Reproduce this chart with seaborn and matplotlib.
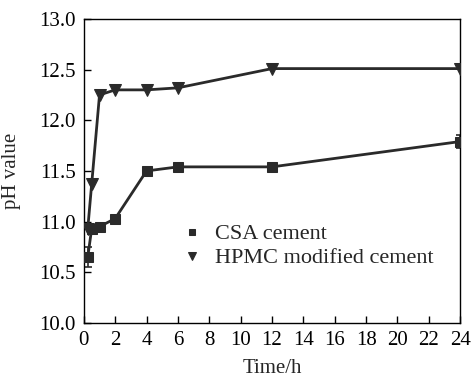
import matplotlib
matplotlib.use("Agg")
import matplotlib.pyplot as plt
import seaborn as sns
import pandas as pd

time_csa = [0.25, 0.5, 1, 2, 4, 6, 12, 24]
ph_csa = [10.65, 10.93, 10.95, 11.03, 11.50, 11.54, 11.54, 11.79]
err_csa = [0.10, 0.02, 0.02, 0.02, 0.04, 0.02, 0.02, 0.06]

time_hpmc = [0.25, 0.5, 1, 2, 4, 6, 12, 24]
ph_hpmc = [10.93, 11.37, 12.25, 12.30, 12.30, 12.32, 12.51, 12.51]

labels = ["CSA cement", "HPMC modified cement"]
x_ticks = [0, 2, 4, 6, 8, 10, 12, 14, 16, 18, 20, 22, 24]
y_ticks = [10.0, 10.5, 11.0, 11.5, 12.0, 12.5, 13.0]

sns.set_theme(style="ticks")
plt.rcParams['font.family'] = ['Liberation Serif', 'DejaVu Serif']
plt.rcParams['mathtext.fontset'] = 'stix'

fig = plt.figure(figsize=(4.71, 3.79), dpi=100)
ax = fig.add_axes([0.178, 0.148, 0.799, 0.802])

df_csa = pd.DataFrame({"t": time_csa, "pH": ph_csa})
df_hpmc = pd.DataFrame({"t": time_hpmc, "pH": ph_hpmc})

col = "#2a2a2a"
ax.errorbar(time_csa, ph_csa, yerr=err_csa, fmt="none", ecolor=col, elinewidth=1.2, capsize=3, capthick=1.2, zorder=2)
sns.lineplot(data=df_csa, x="t", y="pH", ax=ax, color=col, linewidth=2.0, marker="s",
             markersize=6.5, markeredgecolor=col, markerfacecolor=col, label=labels[0], zorder=3)
sns.lineplot(data=df_hpmc, x="t", y="pH", ax=ax, color=col, linewidth=2.0, marker="v",
             markersize=8.5, markeredgecolor=col, markerfacecolor=col, label=labels[1], zorder=3)

ax.set_xlim(0, 24)
ax.set_ylim(10.0, 13.0)
ax.set_xticks(x_ticks)
ax.set_yticks(y_ticks)
ax.set_yticklabels([f"{v:.1f}" for v in y_ticks])
ax.tick_params(direction="in", length=5, width=1, labelsize=15, colors="black", pad=6)
for s in ax.spines.values():
    s.set_linewidth(1.0)
    s.set_color("black")
ax.set_xlabel("Time/h", fontsize=15, labelpad=6)
ax.set_ylabel("pH value", fontsize=15, labelpad=13)

leg = ax.legend(loc="upper left", bbox_to_anchor=(0.265, 0.355), frameon=False, fontsize=16,
                handlelength=0.0, handletextpad=1.0, labelspacing=0.15, borderaxespad=0,
                markerscale=0.7)
for h in leg.legend_handles:
    h.set_linestyle("none")

fig.savefig("out.png", dpi=100)
